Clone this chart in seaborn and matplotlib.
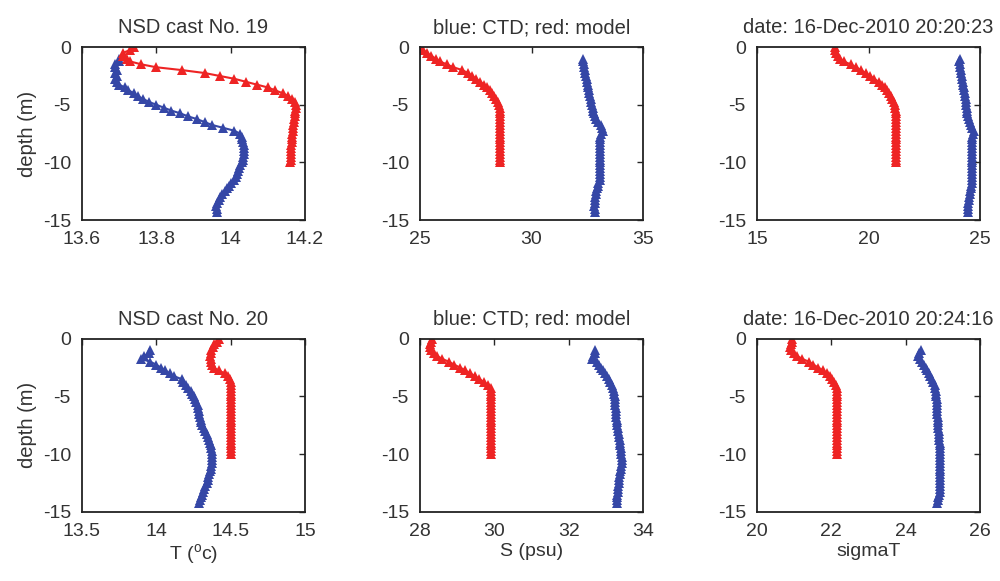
import matplotlib
matplotlib.use('Agg')
import matplotlib.pyplot as plt
import seaborn as sns

# --- Data ---
MODEL_DEPTH = [0.0, -0.25, -0.5, -0.75, -1.0, -1.25, -1.5, -1.75, -2.0, -2.25,
               -2.5, -2.75, -3.0, -3.25, -3.5, -3.75, -4.0, -4.25, -4.5, -4.75,
               -5.0, -5.25, -5.5, -5.75, -6.0, -6.25, -6.5, -6.75, -7.0, -7.25,
               -7.5, -7.75, -8.0, -8.25, -8.5, -8.75, -9.0, -9.25, -9.5, -9.75,
               -10.0]
CTD_DEPTH = [-1.0, -1.25, -1.5, -1.75, -2.0, -2.25, -2.5, -2.75, -3.0, -3.25,
             -3.5, -3.75, -4.0, -4.25, -4.5, -4.75, -5.0, -5.25, -5.5, -5.75,
             -6.0, -6.25, -6.5, -6.75, -7.0, -7.25, -7.5, -7.75, -8.0, -8.25,
             -8.5, -8.75, -9.0, -9.25, -9.5, -9.75, -10.0, -10.25, -10.5, -10.75,
             -11.0, -11.25, -11.5, -11.75, -12.0, -12.25, -12.5, -12.75, -13.0, -13.25,
             -13.5, -13.75, -14.0, -14.25]

# cast 19
t19_model = [13.74, 13.73, 13.71, 13.71, 13.72, 13.73, 13.76, 13.80, 13.87, 13.93,
             13.97, 14.01, 14.04, 14.07, 14.10, 14.12, 14.14, 14.155, 14.165, 14.172,
             14.175, 14.175, 14.174, 14.173, 14.172, 14.171, 14.170, 14.169, 14.168, 14.167,
             14.166, 14.165, 14.164, 14.164, 14.163, 14.163, 14.162, 14.162, 14.161, 14.161,
             14.16]
t19_ctd = [13.70, 13.70, 13.69, 13.69, 13.695, 13.69, 13.695, 13.69, 13.695, 13.70,
           13.715, 13.725, 13.74, 13.75, 13.765, 13.78, 13.80, 13.82, 13.84, 13.865,
           13.885, 13.91, 13.93, 13.95, 13.98, 14.01, 14.025, 14.03, 14.03, 14.033,
           14.035, 14.035, 14.035, 14.035, 14.034, 14.033, 14.03, 14.025, 14.022, 14.02,
           14.018, 14.015, 14.008, 14.0, 13.995, 13.99, 13.985, 13.978, 13.972, 13.968,
           13.962, 13.96, 13.962, 13.963]
s19_model = [25.0, 25.15, 25.3, 25.5, 25.7, 25.9, 26.2, 26.5, 26.9, 27.15,
             27.35, 27.5, 27.7, 27.85, 28.0, 28.12, 28.22, 28.3, 28.4, 28.5,
             28.55, 28.58, 28.6, 28.6, 28.6, 28.6, 28.6, 28.6, 28.6, 28.6,
             28.6, 28.6, 28.6, 28.6, 28.6, 28.6, 28.6, 28.59, 28.59, 28.59,
             28.59]
s19_ctd = [32.3, 32.32, 32.35, 32.37, 32.4, 32.42, 32.45, 32.47, 32.5, 32.52,
           32.55, 32.57, 32.6, 32.63, 32.66, 32.69, 32.72, 32.75, 32.76, 32.8,
           32.85, 32.9, 33.0, 33.1, 33.15, 33.2, 33.12, 33.08, 33.06, 33.06,
           33.06, 33.06, 33.06, 33.06, 33.06, 33.06, 33.06, 33.06, 33.06, 33.06,
           33.06, 33.06, 33.05, 33.0, 32.98, 32.93, 32.9, 32.88, 32.86, 32.84,
           32.83, 32.82, 32.84, 32.85]
st19_model = [18.5, 18.52, 18.56, 18.65, 18.74, 18.9, 19.2, 19.45, 19.65, 19.88,
              20.07, 20.25, 20.45, 20.6, 20.73, 20.84, 20.93, 21.0, 21.07, 21.13,
              21.18, 21.2, 21.22, 21.22, 21.22, 21.22, 21.22, 21.22, 21.22, 21.22,
              21.22, 21.22, 21.22, 21.22, 21.22, 21.22, 21.22, 21.22, 21.22, 21.22,
              21.22]
st19_ctd = [24.1, 24.08, 24.1, 24.12, 24.15, 24.17, 24.18, 24.2, 24.22, 24.25,
            24.27, 24.3, 24.32, 24.34, 24.35, 24.37, 24.38, 24.4, 24.4, 24.42,
            24.45, 24.5, 24.55, 24.6, 24.65, 24.72, 24.67, 24.64, 24.63, 24.63,
            24.63, 24.63, 24.63, 24.63, 24.63, 24.63, 24.63, 24.63, 24.63, 24.63,
            24.63, 24.63, 24.63, 24.62, 24.6, 24.58, 24.56, 24.54, 24.52, 24.49,
            24.47, 24.47, 24.48, 24.48]

# cast 20
t20_model = [14.42, 14.41, 14.39, 14.38, 14.37, 14.365, 14.36, 14.365, 14.37, 14.375,
             14.385, 14.42, 14.46, 14.48, 14.495, 14.5, 14.5, 14.5, 14.5, 14.5,
             14.5, 14.5, 14.5, 14.5, 14.5, 14.5, 14.5, 14.5, 14.5, 14.5,
             14.5, 14.5, 14.5, 14.5, 14.5, 14.5, 14.5, 14.5, 14.5, 14.5,
             14.5]
t20_ctd = [13.96, 13.95, 13.92, 13.90, 13.96, 14.0, 14.03, 14.06, 14.09, 14.12,
           14.17, 14.18, 14.2, 14.21, 14.23, 14.24, 14.25, 14.26, 14.27, 14.28,
           14.28, 14.285, 14.29, 14.295, 14.30, 14.30, 14.31, 14.32, 14.33, 14.34,
           14.35, 14.355, 14.36, 14.365, 14.37, 14.375, 14.375, 14.375, 14.375, 14.375,
           14.37, 14.37, 14.36, 14.355, 14.35, 14.345, 14.34, 14.33, 14.32, 14.315,
           14.31, 14.30, 14.295, 14.29]
s20_model = [28.32, 28.3, 28.28, 28.27, 28.3, 28.38, 28.46, 28.6, 28.78, 28.92,
             29.08, 29.22, 29.35, 29.48, 29.6, 29.72, 29.82, 29.9, 29.9, 29.9,
             29.9, 29.9, 29.9, 29.9, 29.9, 29.9, 29.9, 29.9, 29.9, 29.9,
             29.9, 29.9, 29.9, 29.9, 29.9, 29.9, 29.9, 29.9, 29.9, 29.9,
             29.9]
s20_ctd = [32.72, 32.7, 32.66, 32.62, 32.76, 32.82, 32.88, 32.93, 32.98, 33.03,
           33.08, 33.12, 33.16, 33.19, 33.21, 33.23, 33.24, 33.25, 33.26, 33.26,
           33.27, 33.27, 33.28, 33.28, 33.29, 33.29, 33.3, 33.32, 33.34, 33.35,
           33.36, 33.37, 33.38, 33.39, 33.4, 33.41, 33.42, 33.43, 33.43, 33.43,
           33.42, 33.4, 33.38, 33.37, 33.36, 33.35, 33.35, 33.34, 33.33, 33.32,
           33.31, 33.3, 33.29, 33.29]
st20_model = [20.95, 20.93, 20.91, 20.9, 20.92, 21.0, 21.08, 21.22, 21.4, 21.52,
              21.65, 21.78, 21.88, 21.97, 22.03, 22.08, 22.12, 22.14, 22.15, 22.15,
              22.15, 22.15, 22.15, 22.15, 22.15, 22.15, 22.15, 22.15, 22.15, 22.15,
              22.15, 22.15, 22.15, 22.15, 22.15, 22.15, 22.15, 22.15, 22.15, 22.15,
              22.15]
st20_ctd = [24.4, 24.36, 24.33, 24.38, 24.44, 24.49, 24.54, 24.58, 24.62, 24.66,
            24.7, 24.74, 24.78, 24.8, 24.81, 24.82, 24.82, 24.83, 24.83, 24.84,
            24.84, 24.85, 24.85, 24.86, 24.86, 24.87, 24.87, 24.88, 24.89, 24.9,
            24.9, 24.91, 24.92, 24.92, 24.93, 24.93, 24.93, 24.93, 24.93, 24.93,
            24.93, 24.93, 24.93, 24.93, 24.93, 24.93, 24.93, 24.93, 24.93, 24.93,
            24.91, 24.88, 24.86, 24.84]

TITLES = [['NSD cast No. 19', 'blue: CTD; red: model', 'date: 16-Dec-2010 20:20:23'],
          ['NSD cast No. 20', 'blue: CTD; red: model', 'date: 16-Dec-2010 20:24:16']]
XLABELS = ['T ($^{\\rm o}$c)', 'S (psu)', 'sigmaT']
XTICKS = [[[13.6, 13.8, 14.0, 14.2], [25, 30, 35], [15, 20, 25]],
          [[13.5, 14.0, 14.5, 15.0], [28, 30, 32, 34], [20, 22, 24, 26]]]
XTICKLABELS = [[['13.6', '13.8', '14', '14.2'], ['25', '30', '35'], ['15', '20', '25']],
               [['13.5', '14', '14.5', '15'], ['28', '30', '32', '34'], ['20', '22', '24', '26']]]
YTICKS = [0, -5, -10, -15]
YTICKLABELS = ['0', '-5', '-10', '-15']

MODEL = [[t19_model, s19_model, st19_model], [t20_model, s20_model, st20_model]]
CTD = [[t19_ctd, s19_ctd, st19_ctd], [t20_ctd, s20_ctd, st20_ctd]]

RED = '#ee2424'
BLUE = '#3547a6'

sns.set_style('white')
plt.rcParams['font.family'] = ['Liberation Sans', 'DejaVu Sans']
plt.rcParams['mathtext.fontset'] = 'custom'
plt.rcParams['mathtext.rm'] = 'Liberation Sans'

fig = plt.figure(figsize=(10, 5.81), dpi=100)

lefts = [0.082, 0.420, 0.757]
bottoms = [0.621, 0.119]
w, h = 0.223, 0.298

for r in range(2):
    for c in range(3):
        ax = fig.add_axes([lefts[c], bottoms[r], w, h])
        sns.lineplot(x=CTD[r][c], y=CTD_DEPTH, sort=False, estimator=None,
                     color=BLUE, marker='^', markersize=6.5, markeredgewidth=0,
                     linewidth=1.5, ax=ax)
        sns.lineplot(x=MODEL[r][c], y=MODEL_DEPTH, sort=False, estimator=None,
                     color=RED, marker='^', markersize=6.5, markeredgewidth=0,
                     linewidth=1.5, ax=ax)
        xt = XTICKS[r][c]
        ax.set_xlim(xt[0], xt[-1])
        ax.set_ylim(-15, 0)
        ax.set_xticks(xt)
        ax.set_xticklabels(XTICKLABELS[r][c])
        ax.set_yticks(YTICKS)
        ax.set_yticklabels(YTICKLABELS)
        ax.tick_params(direction='in', top=True, right=True, length=4,
                       width=1, labelsize=14, pad=8)
        for sp in ax.spines.values():
            sp.set_color('#222222')
            sp.set_linewidth(1.3)
        ax.set_title(TITLES[r][c], fontsize=14.5, pad=10, color='#333333')
        if c == 0:
            ax.set_ylabel('depth (m)', fontsize=14.5, color='#333333')
        else:
            ax.set_ylabel('')
        if r == 1:
            ax.set_xlabel(XLABELS[c], fontsize=14, labelpad=2, color='#333333')
        else:
            ax.set_xlabel('')
        ax.tick_params(labelcolor='#333333')

fig.savefig('out.png', dpi=100)
